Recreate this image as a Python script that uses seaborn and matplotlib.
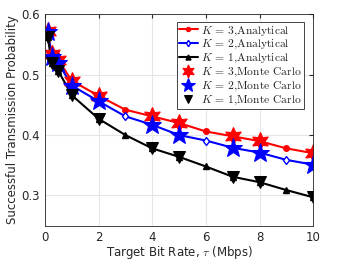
import numpy as np
import pandas as pd
import matplotlib
matplotlib.use("Agg")
import matplotlib.pyplot as plt
import seaborn as sns

# 数据
tau = [0.1, 0.25, 0.5, 1, 2, 3, 4, 5, 6, 7, 8, 9, 10]
k3_ana = [0.572, 0.535, 0.524, 0.490, 0.465, 0.442, 0.431, 0.420, 0.406, 0.398, 0.390, 0.378, 0.370]
k2_ana = [0.571, 0.530, 0.519, 0.482, 0.456, 0.431, 0.417, 0.400, 0.391, 0.379, 0.371, 0.359, 0.351]
k1_ana = [0.563, 0.520, 0.506, 0.466, 0.427, 0.400, 0.378, 0.364, 0.348, 0.331, 0.322, 0.309, 0.297]

tau_mc = [0.1, 0.25, 0.5, 1, 2, 4, 5, 7, 8, 10]
k3_mc = [0.572, 0.535, 0.524, 0.490, 0.465, 0.431, 0.420, 0.398, 0.390, 0.370]
k2_mc = [0.571, 0.530, 0.519, 0.482, 0.456, 0.417, 0.400, 0.379, 0.371, 0.351]
k1_mc = [0.563, 0.520, 0.506, 0.466, 0.427, 0.378, 0.364, 0.331, 0.322, 0.297]

sns.set_style("whitegrid", {"grid.color": "#e6e6e6", "axes.edgecolor": "#262626"})
plt.rcParams['font.family'] = ['DejaVu Sans']
plt.rcParams['mathtext.fontset'] = 'cm'

fig = plt.figure(figsize=(3.46, 2.60), dpi=100)
ax = fig.add_axes([0.130, 0.132, 0.775, 0.813])

ana = [(k3_ana, 'red', 'o', 4, 'red'), (k2_ana, 'blue', 'd', 4.5, 'white'), (k1_ana, 'black', '^', 5, 'black')]
mc = [(k3_mc, 'red', (6, 1, 0), 13), (k2_mc, 'blue', '*', 14), (k1_mc, 'black', 'v', 8)]

handles = []
for vals, c, m, ms, fc in ana:
    df = pd.DataFrame({'tau': tau, 'p': vals})
    sns.lineplot(data=df, x='tau', y='p', ax=ax, color=c, marker=m, markersize=ms,
                 markerfacecolor=fc, markeredgecolor=c, markeredgewidth=1.0, linewidth=1.5)
    handles.append(ax.lines[-1])
for vals, c, m, ms in mc:
    df = pd.DataFrame({'tau': tau_mc, 'p': vals})
    sns.lineplot(data=df, x='tau', y='p', ax=ax, color=c, marker=m, markersize=ms,
                 markerfacecolor=c, markeredgecolor=c, linestyle='none', linewidth=0)
    handles.append(ax.lines[-1])

labels = [r'$K$ = 3,Analytical', r'$K$ = 2,Analytical', r'$K$ = 1,Analytical',
          r'$K$ = 3,Monte Carlo', r'$K$ = 2,Monte Carlo', r'$K$ = 1,Monte Carlo']
leg = ax.legend(handles, labels, loc='upper right', bbox_to_anchor=(0.975, 0.975),
                prop={'family': 'cmr10', 'size': 8.3}, handlelength=1.6, handletextpad=0.3,
                labelspacing=0.05, borderpad=0.2, borderaxespad=0.2, fancybox=False, framealpha=1,
                edgecolor='#262626', markerscale=0.72)
leg.get_frame().set_linewidth(0.6)

ax.set_xlim(0, 10)
ax.set_ylim(0.25, 0.6)
ax.set_xticks([0, 2, 4, 6, 8, 10])
ax.set_yticks([0.3, 0.4, 0.5, 0.6])
ax.tick_params(direction='in', labelsize=8.5, length=3, colors='#262626', top=True, right=True)
ax.set_xlabel(r'Target Bit Rate, $\tau$ (Mbps)', fontsize=8.5, labelpad=0)
ax.set_ylabel('Successful Transmission Probability', fontsize=8.5, labelpad=2)
for s in ax.spines.values():
    s.set_linewidth(0.6)

fig.savefig('out.png', dpi=100)
